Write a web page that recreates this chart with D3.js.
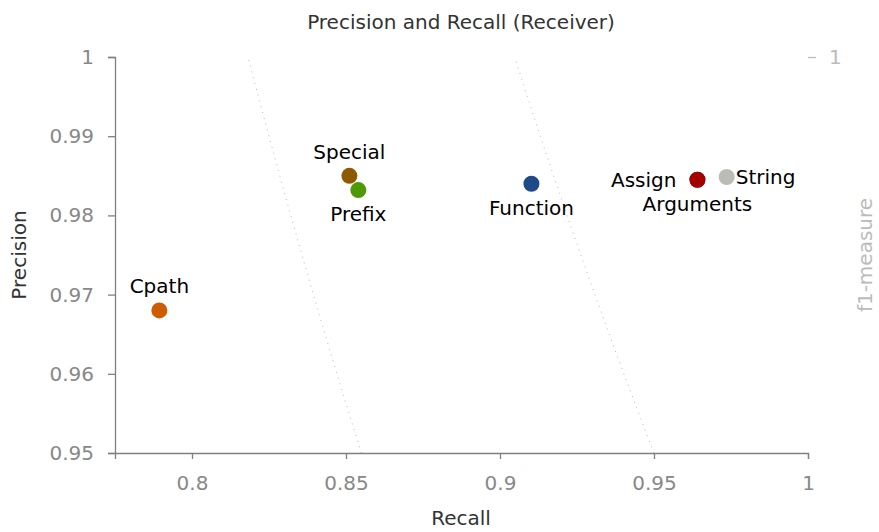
<!DOCTYPE html>
<html>
<head>
<meta charset="utf-8">
<script src="https://cdn.jsdelivr.net/npm/d3@7"></script>
<style>
  html, body { margin: 0; padding: 0; background: #fff; }
  svg { display: block; font-family: "DejaVu Sans", sans-serif; }
</style>
</head>
<body>
<svg id="chart" width="879" height="532"></svg>
<script>
// ---- data ----
const names      = ["Arguments", "Cpath", "Special", "Prefix", "Function", "Assign", "String"];
const recall     = [0.9641, 0.7894, 0.8511, 0.8540, 0.9102, 0.9641, 0.9736];
const precision  = [0.9845, 0.9680, 0.9850, 0.9832, 0.9840, 0.9845, 0.98485];
const labelPlace = ["below", "above", "above", "below", "below", "left", "right"];
const colors     = ["#5c3566", "#ce5c00", "#8f5902", "#4e9a06", "#204a87", "#a40000", "#babdb6"];
const xTicks     = [0.8, 0.85, 0.9, 0.95, 1];
const yTicks     = [0.95, 0.96, 0.97, 0.98, 0.99, 1];
const f1Levels   = [0.9, 0.95];
const f1Ticks    = [1];

const svg = d3.select("#chart");
const x = d3.scaleLinear().domain([0.775, 1]).range([115, 808]);
const y = d3.scaleLinear().domain([0.95, 1]).range([453, 57]);
const fmt = d => String(+d.toFixed(2));

// f1 iso-lines
const pSamples = d3.range(0, 21).map(i => y.domain()[0] + i * (y.domain()[1] - y.domain()[0]) / 20);
const line = d3.line().x(d => x(d[0])).y(d => y(d[1]));
svg.append("g").selectAll("path").data(f1Levels).join("path")
  .attr("d", f => line(pSamples.map(p => [f * p / (2 * p - f), p])))
  .attr("fill", "none")
  .attr("stroke", "#b8b8b8")
  .attr("stroke-width", 1)
  .attr("stroke-dasharray", "1,5");

// axes
const xAxis = d3.axisBottom(x).tickValues(xTicks).tickFormat(fmt).tickSizeInner(6).tickSizeOuter(6).tickPadding(17);
const yAxis = d3.axisLeft(y).tickValues(yTicks).tickFormat(fmt).tickSizeInner(7).tickSizeOuter(7).tickPadding(14);

const gx = svg.append("g").attr("transform", "translate(0,453)").call(xAxis);
const gy = svg.append("g").attr("transform", "translate(115,0)").call(yAxis);
[gx, gy].forEach(g => {
  g.select(".domain").attr("stroke", "#808080").attr("stroke-width", 1.3);
  g.selectAll(".tick line").attr("stroke", "#808080").attr("stroke-width", 1.3);
  g.selectAll(".tick text").attr("fill", "#888").style("font-size", "20px").style("font-family", "DejaVu Sans");
});

// right f1 axis
const yF = d3.scaleLinear().domain([0.95, 1]).range([453, 57]);
const gr = svg.append("g").attr("transform", "translate(808,0)")
  .call(d3.axisRight(yF).tickValues(f1Ticks).tickFormat(fmt).tickSizeInner(8).tickSizeOuter(0).tickPadding(13));
gr.select(".domain").remove();
gr.selectAll(".tick line").attr("stroke", "#bbb").attr("stroke-width", 1.3);
gr.selectAll(".tick text").attr("fill", "#bbb").style("font-size", "20px").style("font-family", "DejaVu Sans");

// points
const idx = d3.range(names.length);
svg.append("g").selectAll("circle").data(idx).join("circle")
  .attr("cx", i => x(recall[i]))
  .attr("cy", i => y(precision[i]))
  .attr("r", 8)
  .attr("fill", i => colors[i]);

// labels
const off = {
  above: { dx: 0,   dy: -17, anchor: "middle" },
  below: { dx: 0,   dy: 31,  anchor: "middle" },
  left:  { dx: -21, dy: 7,   anchor: "end" },
  right: { dx: 9,   dy: 7,   anchor: "start" }
};
svg.append("g").selectAll("text").data(idx).join("text")
  .attr("x", i => x(recall[i]) + off[labelPlace[i]].dx)
  .attr("y", i => y(precision[i]) + off[labelPlace[i]].dy)
  .attr("text-anchor", i => off[labelPlace[i]].anchor)
  .attr("fill", "#000")
  .style("font-size", "20px")
  .text(i => names[i]);

// title & axis labels
svg.append("text").attr("x", 461).attr("y", 29).attr("text-anchor", "middle")
  .attr("fill", "#333").style("font-size", "20px").text("Precision and Recall (Receiver)");
svg.append("text").attr("x", 461).attr("y", 525).attr("text-anchor", "middle")
  .attr("fill", "#333").style("font-size", "20px").text("Recall");
svg.append("text").attr("transform", "translate(26,255) rotate(-90)").attr("text-anchor", "middle")
  .attr("fill", "#333").style("font-size", "20px").text("Precision");
svg.append("text").attr("transform", "translate(872,255) rotate(-90)").attr("text-anchor", "middle")
  .attr("fill", "#bbb").style("font-size", "20px").text("f1-measure");
</script>
</body>
</html>
